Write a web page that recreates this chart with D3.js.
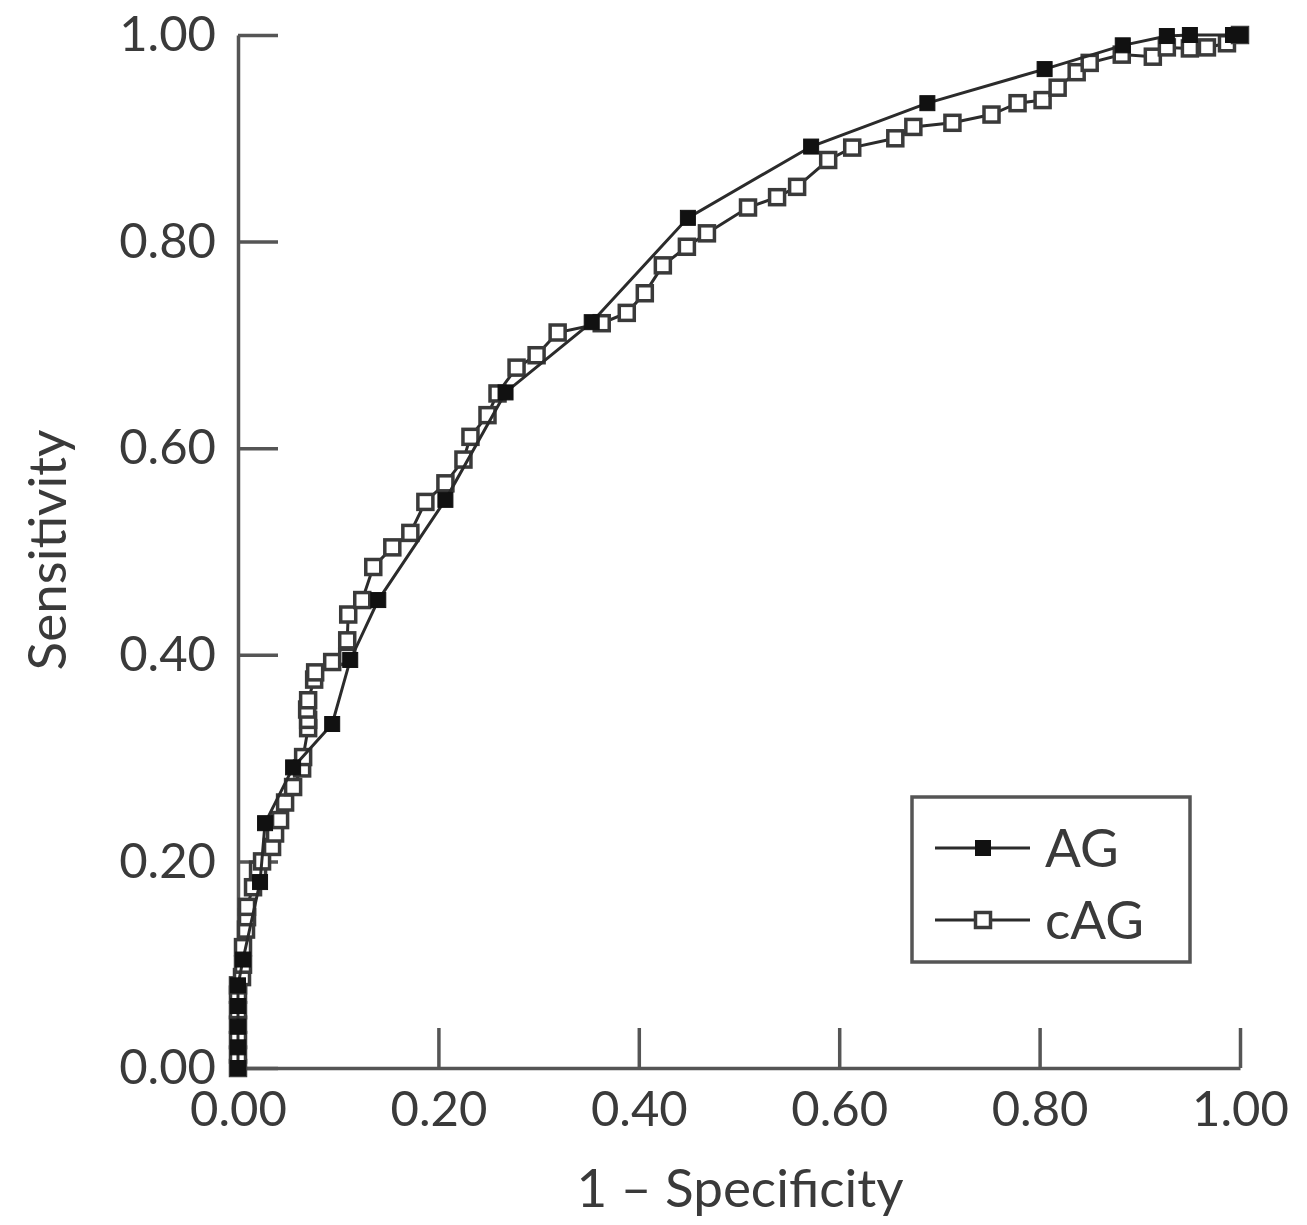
<!DOCTYPE html>
<html lang="en">
<head>
	<meta charset="utf-8">
	<title>ROC curves: AG vs cAG</title>
	<script src="https://d3js.org/d3.v7.min.js"></script>
	<style type="text/css">
		body { margin: 0; background: #fff; }
		.axis path,
		.axis line {
			fill: none;
			stroke: #555;
			stroke-width: 3.5px;
		}
		.axis text {
			font-family: Lato, "Open Sans", sans-serif;
			font-size: 49px;
			fill: #3a3a3a;
		}
		.title {
			font-family: Lato, "Open Sans", sans-serif;
			font-size: 53px;
			fill: #3a3a3a;
		}
	</style>
</head>
<body>
<script type="text/javascript">

	// tick values shared by both axes
	var ticks = [0, 0.2, 0.4, 0.6, 0.8, 1.0];

	// AG series (filled squares): [1 - specificity, sensitivity]
	var agPoints = [
		[0, 0], [0, 0.02], [0, 0.04], [0, 0.06], [0, 0.08], [0.005, 0.105],
		[0.022, 0.18], [0.027, 0.237], [0.055, 0.291], [0.094, 0.333],
		[0.112, 0.395], [0.14, 0.453], [0.207, 0.55], [0.267, 0.654],
		[0.353, 0.722], [0.449, 0.823], [0.572, 0.892], [0.688, 0.934],
		[0.805, 0.967], [0.883, 0.99], [0.927, 0.999], [0.95, 1.0],
		[0.993, 1.0], [1, 1]
	];

	// cAG series (open squares)
	var cagPoints = [
		[0, 0], [0, 0.013], [0, 0.027], [0, 0.042], [0, 0.056], [0, 0.071],
		[0, 0.08], [0.004, 0.088], [0.005, 0.10], [0.005, 0.117], [0.008, 0.134],
		[0.009, 0.146], [0.009, 0.156], [0.015, 0.175], [0.02, 0.192],
		[0.024, 0.20], [0.034, 0.214], [0.037, 0.227], [0.042, 0.24],
		[0.047, 0.257], [0.055, 0.272], [0.064, 0.29], [0.065, 0.301],
		[0.07, 0.329], [0.07, 0.337], [0.069, 0.347], [0.07, 0.356],
		[0.076, 0.376], [0.077, 0.383], [0.094, 0.393], [0.109, 0.398],
		[0.109, 0.414], [0.11, 0.439], [0.124, 0.453], [0.135, 0.485],
		[0.154, 0.504], [0.172, 0.518], [0.187, 0.548], [0.207, 0.566],
		[0.225, 0.589], [0.232, 0.611], [0.249, 0.632], [0.259, 0.653],
		[0.278, 0.678], [0.298, 0.69], [0.319, 0.712], [0.363, 0.721],
		[0.388, 0.731], [0.406, 0.75], [0.424, 0.777], [0.448, 0.795],
		[0.468, 0.808], [0.509, 0.833], [0.538, 0.843], [0.558, 0.853],
		[0.589, 0.879], [0.613, 0.891], [0.656, 0.90], [0.674, 0.911],
		[0.713, 0.915], [0.752, 0.923], [0.778, 0.934], [0.803, 0.937],
		[0.818, 0.949], [0.837, 0.964], [0.85, 0.973], [0.882, 0.981],
		[0.913, 0.979], [0.927, 0.988], [0.95, 0.987], [0.967, 0.988],
		[0.987, 0.992], [1, 1]
	];

	var seriesNames = ["AG", "cAG"];

	//Width and height
	var w = 1307;
	var h = 1225;
	var plotLeft = 238, plotRight = 1240, plotTop = 35, plotBottom = 1068;
	var mark = 15;

	var xScale = d3.scaleLinear().domain([0, 1]).range([plotLeft, plotRight]);
	var yScale = d3.scaleLinear().domain([0, 1]).range([plotBottom, plotTop]);

	var svg = d3.select("body")
		.append("svg")
		.attr("width", w)
		.attr("height", h);

	//Axes with inward ticks
	var xAxis = d3.axisBottom(xScale)
		.tickValues(ticks)
		.tickFormat(d3.format(".2f"))
		.tickSizeInner(-40)
		.tickSizeOuter(0)
		.tickPadding(20);

	var yAxis = d3.axisLeft(yScale)
		.tickValues(ticks)
		.tickFormat(d3.format(".2f"))
		.tickSizeInner(-40)
		.tickSizeOuter(0)
		.tickPadding(22);

	svg.append("g")
		.attr("class", "axis")
		.attr("transform", "translate(0," + plotBottom + ")")
		.call(xAxis)
		.selectAll("text")
		.attr("dy", "0.78em");

	svg.append("g")
		.attr("class", "axis")
		.attr("transform", "translate(" + plotLeft + ",0)")
		.call(yAxis);

	//Axis titles
	svg.append("text")
		.attr("class", "title")
		.attr("x", 740)
		.attr("y", 1207)
		.attr("text-anchor", "middle")
		.text("1 \u2013 Specificity");

	svg.append("text")
		.attr("class", "title")
		.attr("transform", "translate(66,550) rotate(-90)")
		.attr("text-anchor", "middle")
		.text("Sensitivity");

	var line = d3.line()
		.x(function (d) { return xScale(d[0]); })
		.y(function (d) { return yScale(d[1]); });

	function drawSeries(data, filled) {
		svg.append("path")
			.datum(data)
			.attr("d", line)
			.attr("fill", "none")
			.attr("stroke", "#2b2b2b")
			.attr("stroke-width", 3);

		svg.append("g")
			.selectAll("rect")
			.data(data)
			.enter()
			.append("rect")
			.attr("x", function (d) { return xScale(d[0]) - mark / 2; })
			.attr("y", function (d) { return yScale(d[1]) - mark / 2; })
			.attr("width", mark)
			.attr("height", mark)
			.attr("fill", filled ? "#111" : "#fff")
			.attr("stroke", filled ? "#111" : "#3a3a3a")
			.attr("stroke-width", filled ? 1 : 3.5);
	}

	drawSeries(cagPoints, false);
	drawSeries(agPoints, true);

	//Legend
	var legend = svg.append("g").attr("transform", "translate(912,797)");
	legend.append("rect")
		.attr("width", 278)
		.attr("height", 165)
		.attr("fill", "#fff")
		.attr("stroke", "#555")
		.attr("stroke-width", 3.5);

	seriesNames.forEach(function (name, i) {
		var ly = 51 + i * 72;
		var filled = i === 0;
		legend.append("line")
			.attr("x1", 23).attr("x2", 118)
			.attr("y1", ly).attr("y2", ly)
			.attr("stroke", "#2b2b2b")
			.attr("stroke-width", 3);
		legend.append("rect")
			.attr("x", 71 - mark / 2)
			.attr("y", ly - mark / 2)
			.attr("width", mark)
			.attr("height", mark)
			.attr("fill", filled ? "#111" : "#fff")
			.attr("stroke", filled ? "#111" : "#3a3a3a")
			.attr("stroke-width", filled ? 1 : 3.5);
		legend.append("text")
			.attr("class", "title")
			.attr("x", 133)
			.attr("y", ly)
			.attr("dy", "0.35em")
			.text(name);
	});

</script>
</body>
</html>
